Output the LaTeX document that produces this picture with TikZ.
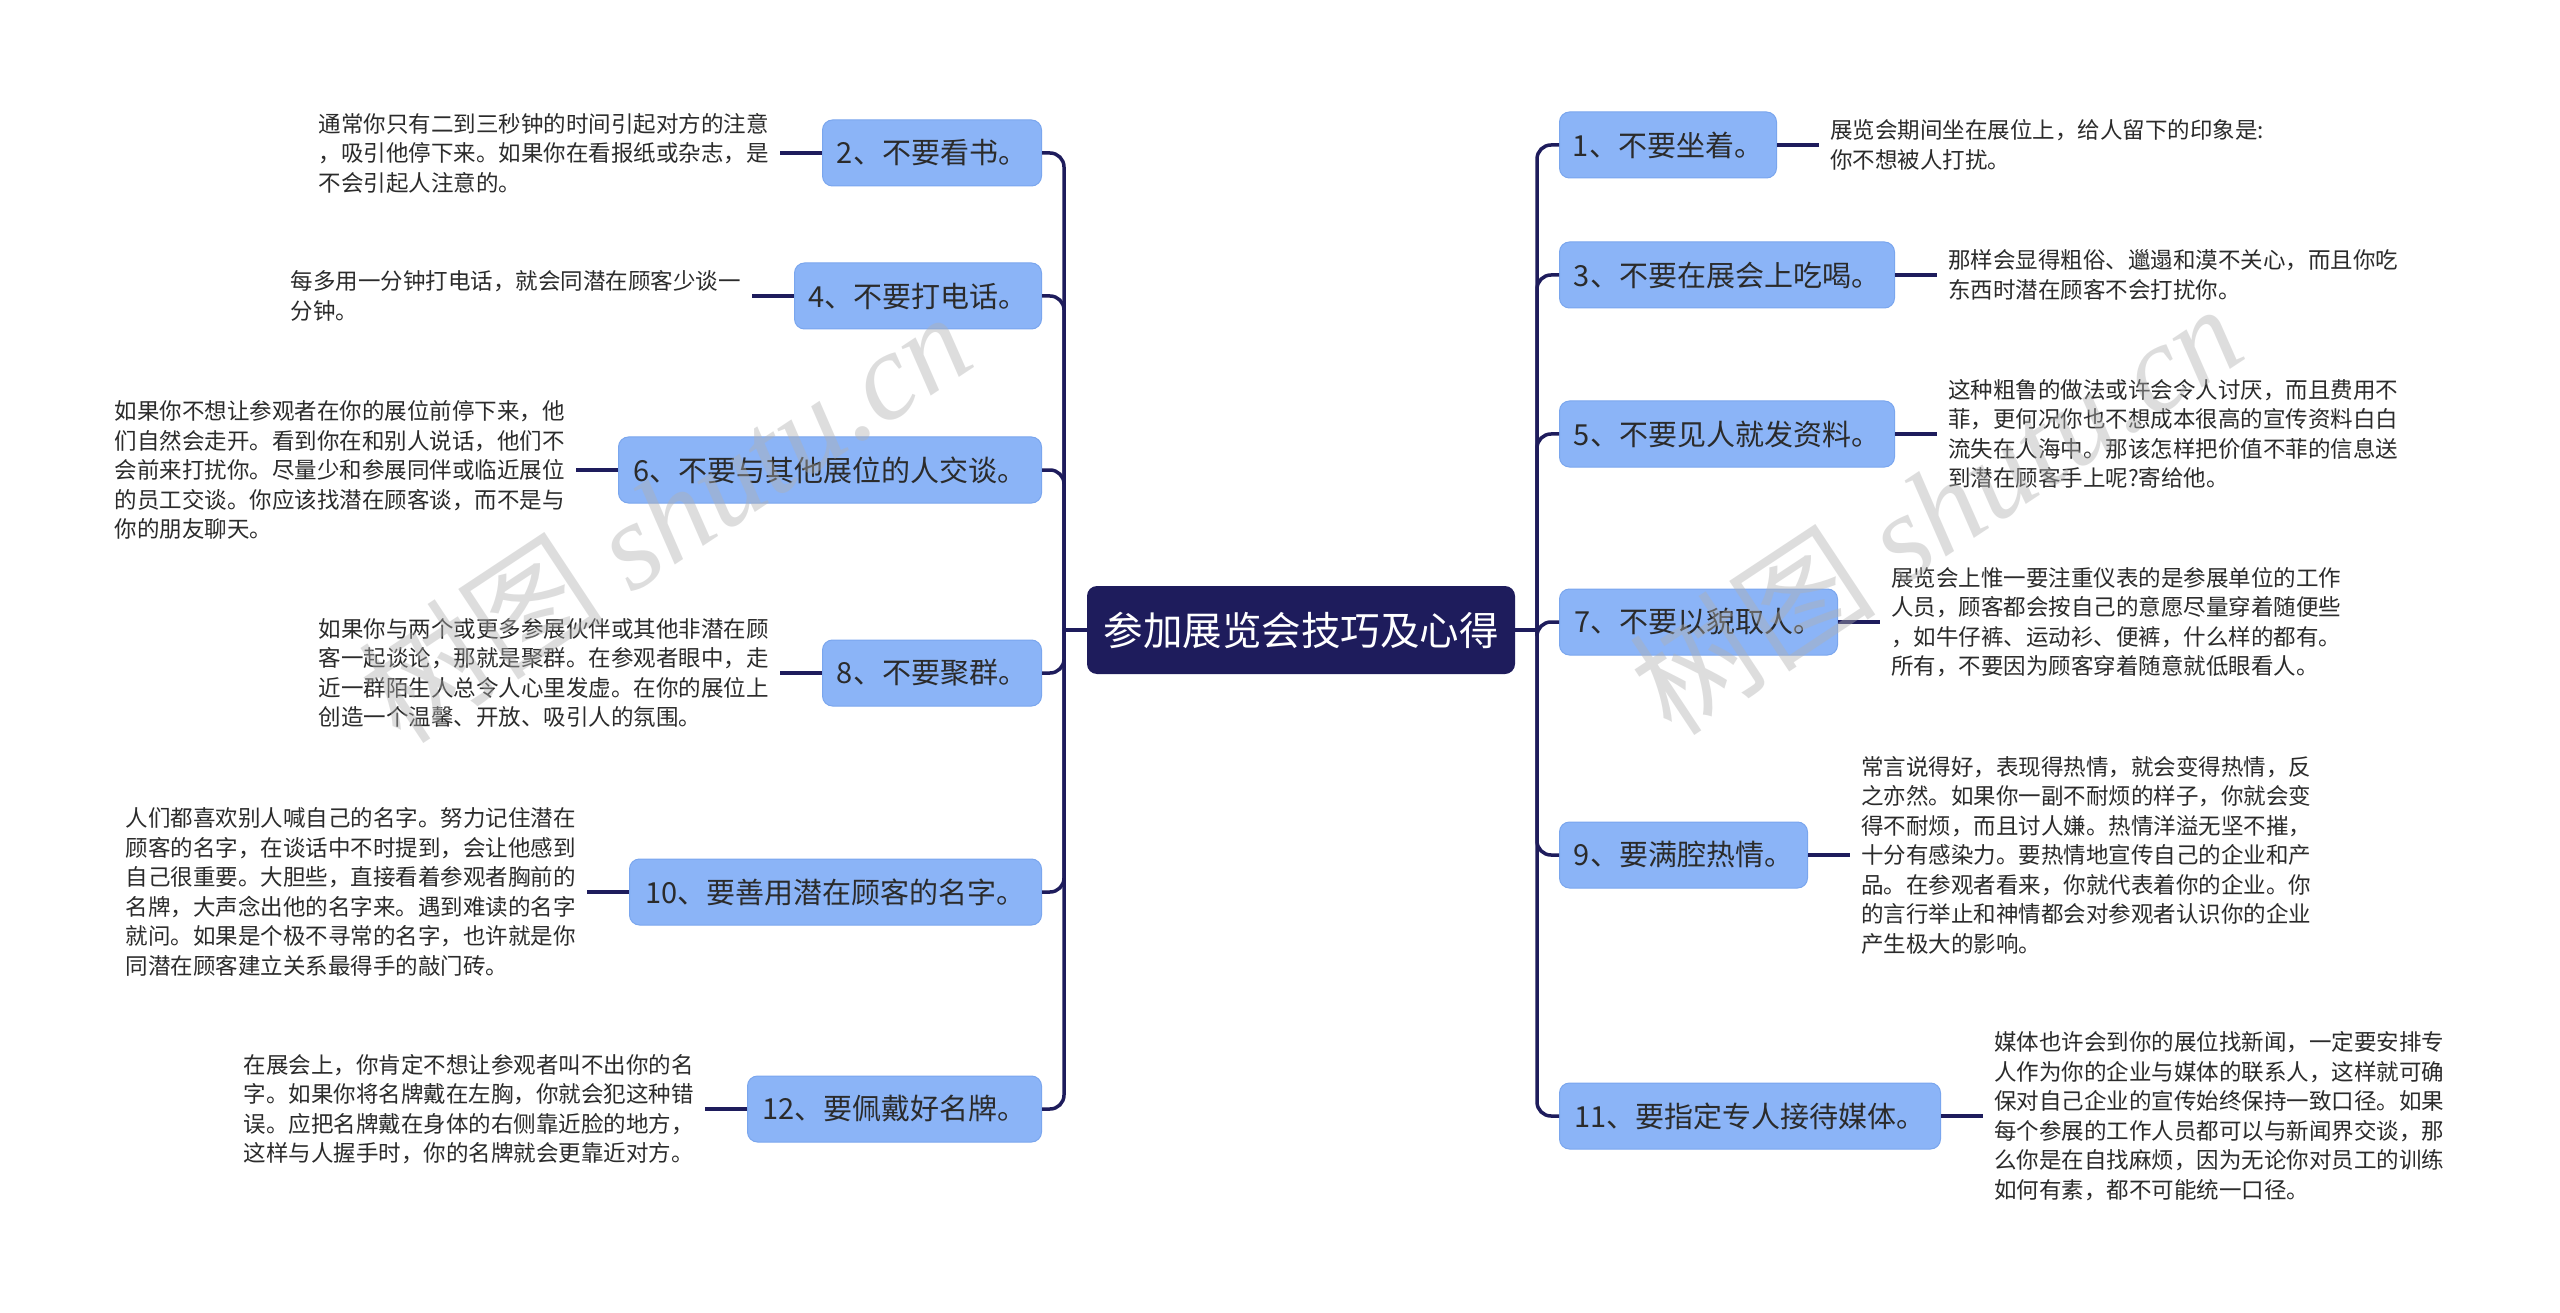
\documentclass[tikz,border=0pt]{standalone}
\usepackage{fontspec}
\setmainfont{Noto Sans CJK SC}
\newfontfamily\cjk{Noto Sans CJK SC}
\newfontfamily\wmfont{Liberation Serif}
\definecolor{navy}{HTML}{1E1C5C}
\definecolor{boxblue}{HTML}{8BB4F7}
\definecolor{boxline}{HTML}{7AA6EE}
\definecolor{txt}{HTML}{2B2B2B}
\definecolor{wmgray}{HTML}{B0B0B0}
\tikzset{
  conn/.style={draw=navy, line width=3.5pt},
  central/.style={fill=navy, rounded corners=10pt, text=white, font=\fontsize{39.5}{46}\selectfont, minimum height=88pt, minimum width=428pt, inner sep=0pt},
  topic/.style={fill=boxblue, draw=boxline, line width=1pt, rounded corners=10pt, text=txt, font=\fontsize{29}{34}\selectfont, minimum height=66pt, inner sep=0pt},
  desc/.style={align=left, text=txt, font=\fontsize{22.5}{29.5}\selectfont, inner xsep=11pt, inner ysep=0pt},
  wm/.style={text=wmgray, opacity=0.42, rotate=33.5, inner sep=0pt}
}
\begin{document}
\begin{tikzpicture}[x=1pt, y=-1pt]
\fill[white] (0,0) rectangle (2560,1313);
\useasboundingbox (0,0) rectangle (2560,1313);

% central
\node[central] (c) at (1301,630) {参加展览会技巧及心得};
\coordinate (tl) at (1064,630);
\coordinate (tr) at (1537,630);

% left topics
\node[topic, anchor=east, minimum width=219pt] (n2) at (1042,153) {2、不要看书。};
\node[topic, anchor=east, minimum width=247pt] (n4) at (1042,296) {4、不要打电话。};
\node[topic, anchor=east, minimum width=423pt] (n6) at (1042,470) {6、不要与其他展位的人交谈。};
\node[topic, anchor=east, minimum width=219pt] (n8) at (1042,673) {8、不要聚群。};
\node[topic, anchor=east, minimum width=412pt] (n10) at (1042,892) {10、要善用潜在顾客的名字。};
\node[topic, anchor=east, minimum width=294pt] (n12) at (1042,1109) {12、要佩戴好名牌。};

% right topics
\node[topic, anchor=west, minimum width=217pt] (n1) at (1559,145) {1、不要坐着。};
\node[topic, anchor=west, minimum width=335pt] (n3) at (1559,275) {3、不要在展会上吃喝。};
\node[topic, anchor=west, minimum width=335pt] (n5) at (1559,434) {5、不要见人就发资料。};
\node[topic, anchor=west, minimum width=278pt] (n7) at (1559,622) {7、不要以貌取人。};
\node[topic, anchor=west, minimum width=248pt] (n9) at (1559,855) {9、要满腔热情。};
\node[topic, anchor=west, minimum width=381pt] (n11) at (1559,1116) {11、要指定专人接待媒体。};

% trunk connectors
\draw[conn] (c.west) -- (tl);
\draw[conn] (c.east) -- (tr);
\foreach \n in {n2,n4,n6,n8,n10,n12}{
  \draw[conn, rounded corners=14pt] (tl) |- (\n.east);
}
\foreach \n in {n1,n3,n5,n7,n9,n11}{
  \draw[conn, rounded corners=14pt] (tr) |- (\n.west);
}

% left descriptions
\node[desc, anchor=east] (t2) at ([xshift=-42pt]n2.west) {通常你只有二到三秒钟的时间引起对方的注意\\，吸引他停下来。如果你在看报纸或杂志，是\\不会引起人注意的。};
\node[desc, anchor=east] (t4) at ([xshift=-42pt]n4.west) {每多用一分钟打电话，就会同潜在顾客少谈一\\分钟。};
\node[desc, anchor=east] (t6) at ([xshift=-42pt]n6.west) {如果你不想让参观者在你的展位前停下来，他\\们自然会走开。看到你在和别人说话，他们不\\会前来打扰你。尽量少和参展同伴或临近展位\\的员工交谈。你应该找潜在顾客谈，而不是与\\你的朋友聊天。};
\node[desc, anchor=east] (t8) at ([xshift=-42pt]n8.west) {如果你与两个或更多参展伙伴或其他非潜在顾\\客一起谈论，那就是聚群。在参观者眼中，走\\近一群陌生人总令人心里发虚。在你的展位上\\创造一个温馨、开放、吸引人的氛围。};
\node[desc, anchor=east] (t10) at ([xshift=-42pt]n10.west) {人们都喜欢别人喊自己的名字。努力记住潜在\\顾客的名字，在谈话中不时提到，会让他感到\\自己很重要。大胆些，直接看着参观者胸前的\\名牌，大声念出他的名字来。遇到难读的名字\\就问。如果是个极不寻常的名字，也许就是你\\同潜在顾客建立关系最得手的敲门砖。};
\node[desc, anchor=east] (t12) at ([xshift=-42pt]n12.west) {在展会上，你肯定不想让参观者叫不出你的名\\字。如果你将名牌戴在左胸，你就会犯这种错\\误。应把名牌戴在身体的右侧靠近脸的地方，\\这样与人握手时，你的名牌就会更靠近对方。};

% right descriptions
\node[desc, anchor=west] (t1) at ([xshift=42pt]n1.east) {展览会期间坐在展位上，给人留下的印象是:\\你不想被人打扰。};
\node[desc, anchor=west] (t3) at ([xshift=42pt]n3.east) {那样会显得粗俗、邋遢和漠不关心，而且你吃\\东西时潜在顾客不会打扰你。};
\node[desc, anchor=west] (t5) at ([xshift=42pt]n5.east) {这种粗鲁的做法或许会令人讨厌，而且费用不\\菲，更何况你也不想成本很高的宣传资料白白\\流失在人海中。那该怎样把价值不菲的信息送\\到潜在顾客手上呢?寄给他。};
\node[desc, anchor=west] (t7) at ([xshift=42pt]n7.east) {展览会上惟一要注重仪表的是参展单位的工作\\人员，顾客都会按自己的意愿尽量穿着随便些\\，如牛仔裤、运动衫、便裤，什么样的都有。\\所有，不要因为顾客穿着随意就低眼看人。};
\node[desc, anchor=west] (t9) at ([xshift=42pt]n9.east) {常言说得好，表现得热情，就会变得热情，反\\之亦然。如果你一副不耐烦的样子，你就会变\\得不耐烦，而且讨人嫌。热情洋溢无坚不摧，\\十分有感染力。要热情地宣传自己的企业和产\\品。在参观者看来，你就代表着你的企业。你\\的言行举止和神情都会对参观者认识你的企业\\产生极大的影响。};
\node[desc, anchor=west] (t11) at ([xshift=42pt]n11.east) {媒体也许会到你的展位找新闻，一定要安排专\\人作为你的企业与媒体的联系人，这样就可确\\保对自己企业的宣传始终保持一致口径。如果\\每个参展的工作人员都可以与新闻界交谈，那\\么你是在自找麻烦，因为无论你对员工的训练\\如何有素，都不可能统一口径。};

% description connectors
\foreach \t/\n in {t2/n2,t4/n4,t6/n6,t8/n8,t10/n10,t12/n12}{
  \draw[conn] (\t.east) -- (\n.west);
}
\foreach \t/\n in {t1/n1,t3/n3,t5/n5,t7/n7,t9/n9,t11/n11}{
  \draw[conn] (\n.east) -- (\t.west);
}

% watermarks
\node[wm] (wm1) at (664,516) {\fontsize{124}{130}\selectfont\cjk 树图\ \wmfont\itshape shutu.cn};
\node[wm] (wm2) at (1935,508) {\fontsize{124}{130}\selectfont\cjk 树图\ \wmfont\itshape shutu.cn};
\end{tikzpicture}
\end{document}
